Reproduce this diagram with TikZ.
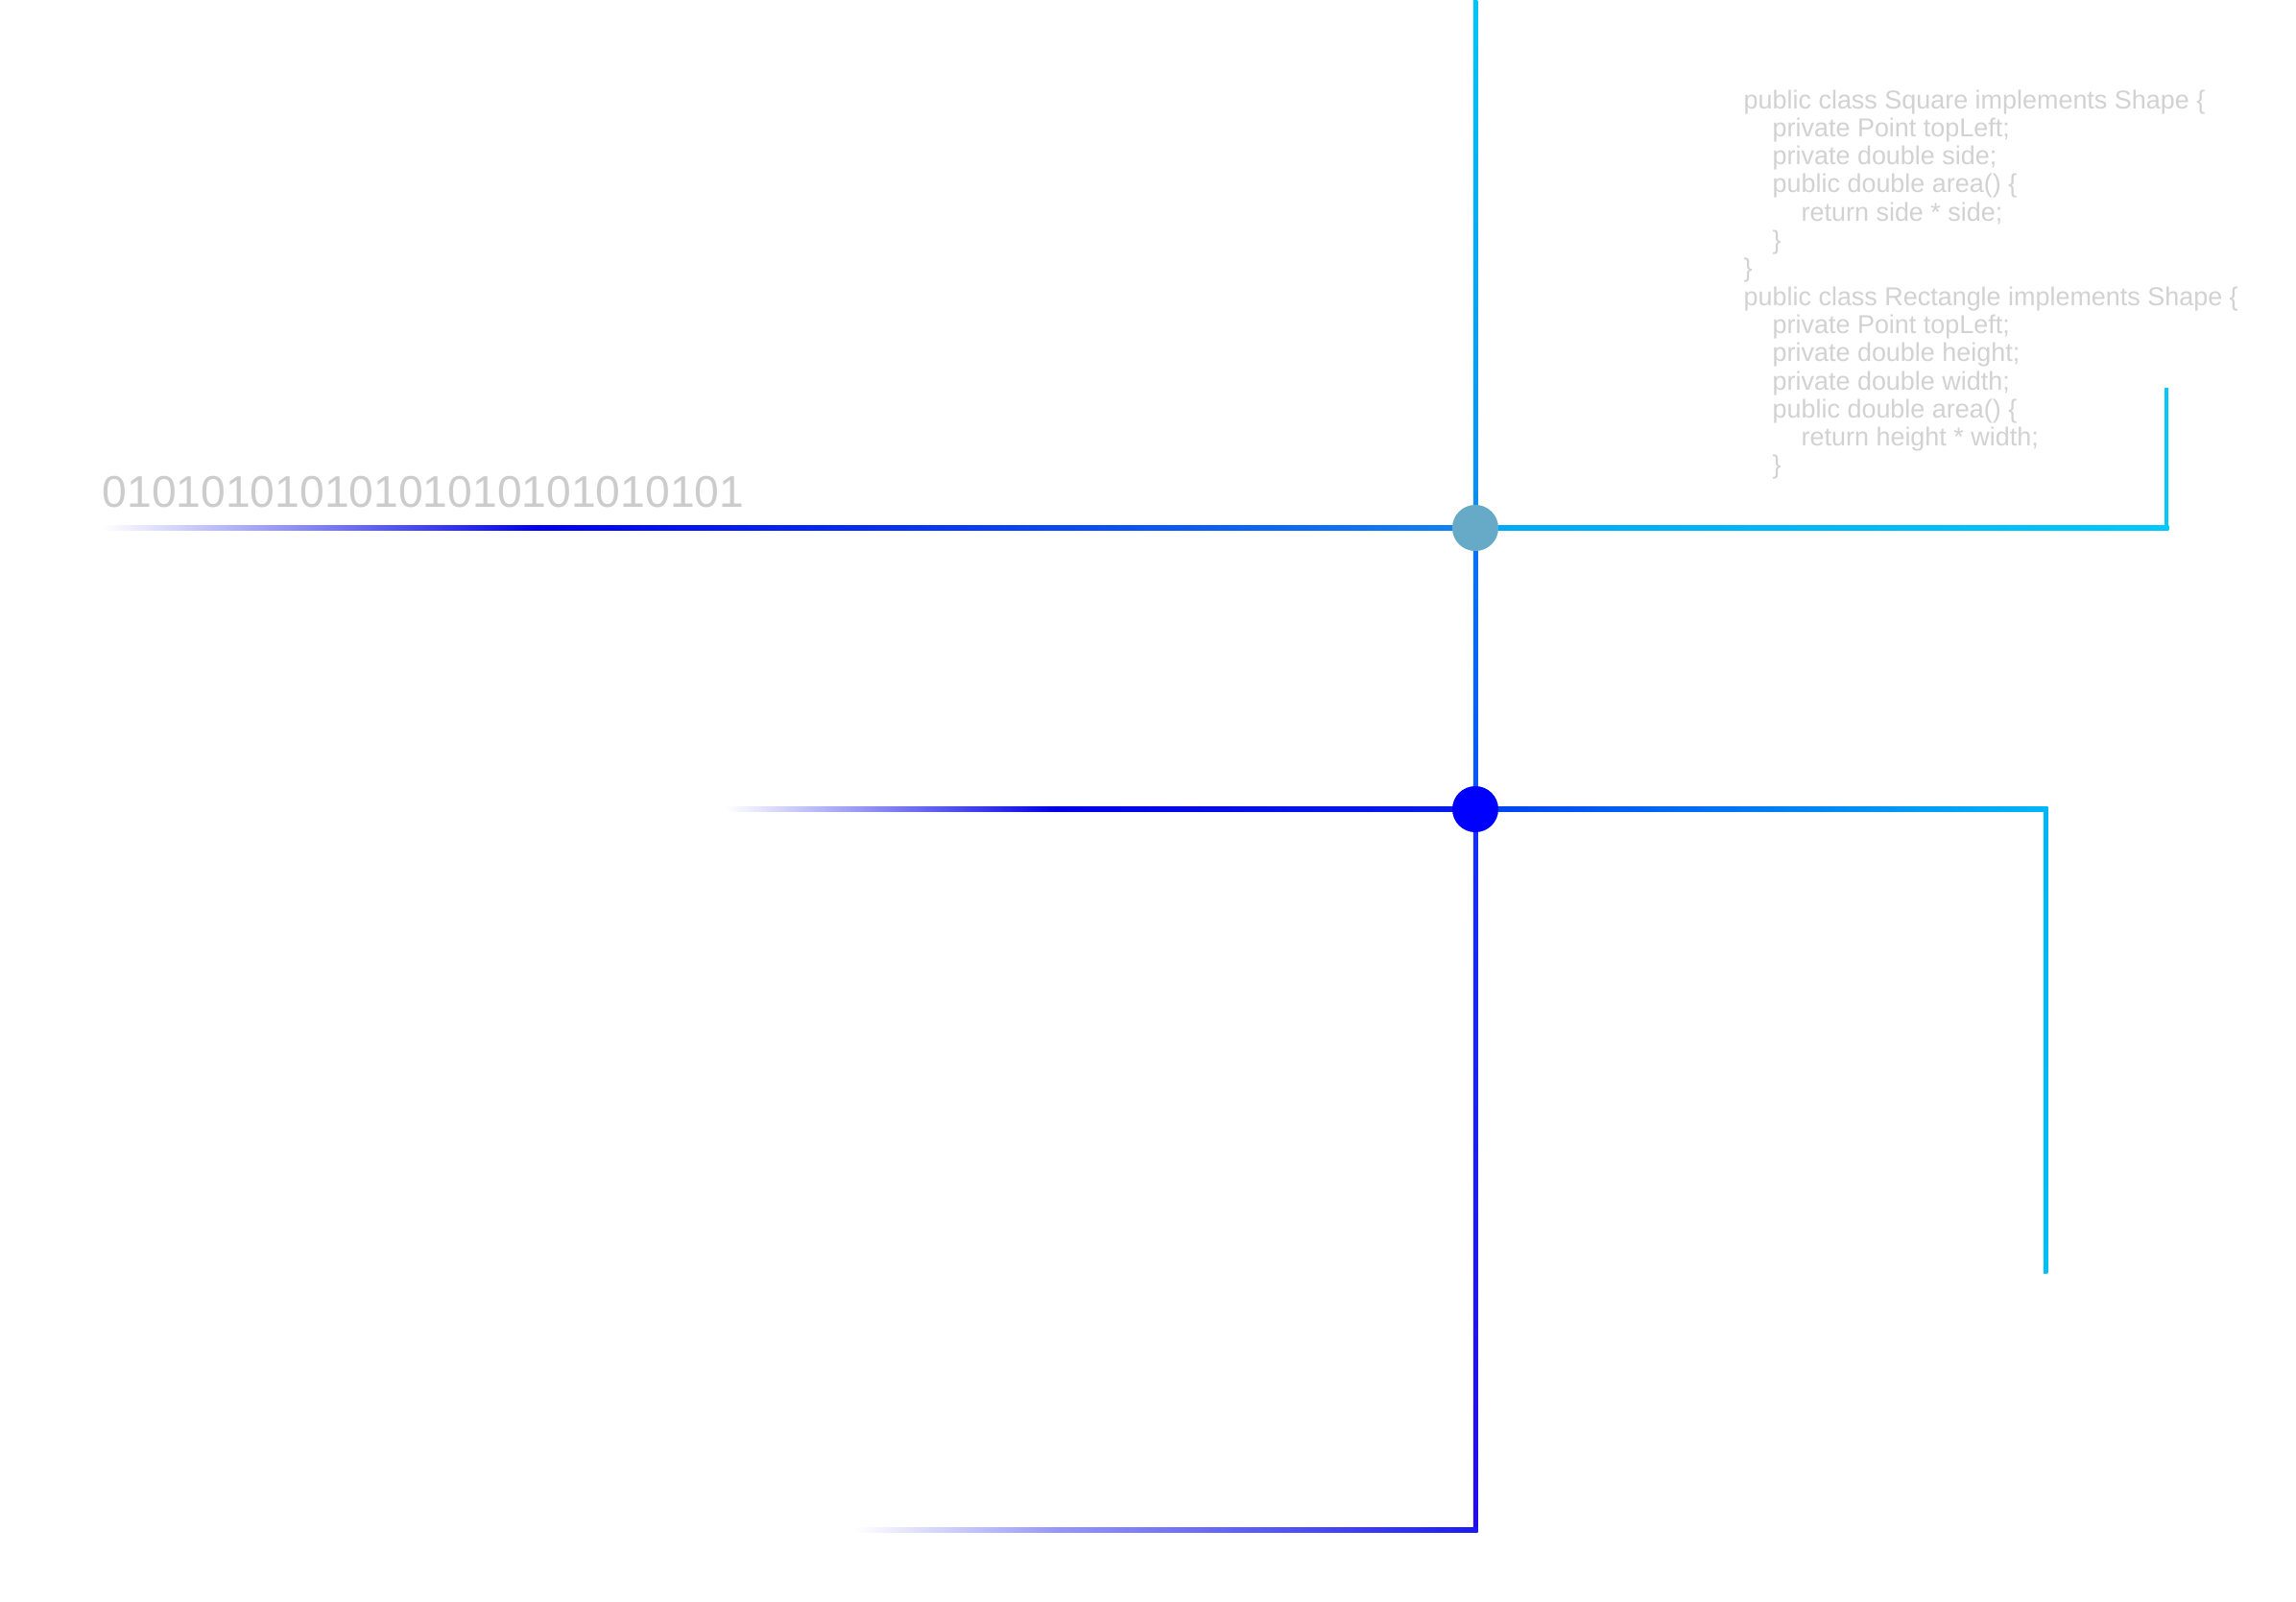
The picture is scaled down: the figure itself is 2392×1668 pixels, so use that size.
\documentclass[tikz,border=0pt]{standalone}
\usepackage{fontspec}
\setmainfont{Liberation Sans}
\usetikzlibrary{calc}
\definecolor{codegray}{RGB}{210,210,210}
\definecolor{bitgray}{RGB}{204,204,204}
\definecolor{cyanTop}{RGB}{0,198,248}
\definecolor{cyanEnd}{RGB}{0,200,250}
\definecolor{cyanMid}{RGB}{0,168,246}
\definecolor{blueNearHubA}{RGB}{12,140,242}
\definecolor{blueDeep}{RGB}{0,0,238}
\definecolor{blueHubLeft}{RGB}{18,132,242}
\definecolor{blueBetweenTop}{RGB}{8,118,252}
\definecolor{blueBetweenBot}{RGB}{6,84,250}
\definecolor{blueLowTop}{RGB}{20,48,255}
\definecolor{violetBot}{RGB}{36,10,240}
\definecolor{blueTwoLeft}{RGB}{0,0,232}
\definecolor{blueTwoHub}{RGB}{6,30,236}
\definecolor{blueTwoRight}{RGB}{0,64,242}
\definecolor{cyanTwo}{RGB}{0,182,246}
\definecolor{cyanTwoEnd}{RGB}{0,190,246}
\definecolor{fadeMid}{RGB}{150,150,248}
\definecolor{bottomBlue}{RGB}{26,26,242}
\definecolor{hubOne}{RGB}{102,170,200}
\definecolor{hubTwo}{RGB}{0,0,255}
\tikzset{
  code/.style={anchor=base west, inner sep=0pt, text=codegray,
    font=\fontsize{7.66pt}{9pt}\selectfont},
  bits/.style={anchor=base west, inner sep=0pt, text=bitgray,
    font=\fontsize{13.15pt}{15pt}\selectfont},
  hub/.style={circle, inner sep=0pt, minimum size=0.48cm, draw=none},
}
\begin{document}
\begin{tikzpicture}[x=0.01cm,y=-0.01cm]
\useasboundingbox (0,0) rectangle (2392,1668);
\fill[white] (0,0) rectangle (2392,1668);

% key points
\coordinate (vtop) at (1537,0);
\coordinate (hubA) at (1537,550);
\coordinate (hubB) at (1537,843);
\coordinate (vbot) at (1537,1594);
\coordinate (lAstart) at (106,550);
\coordinate (lAmid) at (560,550);
\coordinate (rAcorner) at (2257,550);
\coordinate (rAend) at (2257,404);
\coordinate (lBstart) at (755,843);
\coordinate (lBmid) at (1100,843);
\coordinate (rBcorner) at (2131,843);
\coordinate (rBend) at (2131,1326);
\coordinate (lCstart) at (891,1594);
\coordinate (lCmid) at (1100,1594);

% vertical trunk
\fill[top color=cyanTop, bottom color=blueNearHubA]
  ($(vtop)+(-2.25,0)$) rectangle ($(hubA)+(2.25,0)$);
\fill[top color=blueBetweenTop, bottom color=blueBetweenBot]
  ($(hubA)+(-2.25,0)$) rectangle ($(hubB)+(2.25,0)$);
\fill[top color=blueLowTop, bottom color=violetBot]
  ($(hubB)+(-2.25,0)$) rectangle ($(vbot)+(2.25,2.25)$);

% upper branch
\fill[left color=white, right color=blueDeep]
  ($(lAstart)+(0,-2.25)$) rectangle ($(lAmid)+(0,2.25)$);
\fill[left color=blueDeep, right color=blueHubLeft]
  ($(lAmid)+(0,-2.25)$) rectangle ($(hubA)+(0,2.25)$);
\fill[left color=cyanMid, right color=cyanEnd]
  ($(hubA)+(0,-2.25)$) rectangle ($(rAcorner)+(2.25,2.25)$);
\fill[cyanEnd]
  ($(rAend)+(-2.25,0)$) rectangle ($(rAcorner)+(2.25,0)$);

% middle branch
\fill[left color=white, right color=blueTwoLeft]
  ($(lBstart)+(0,-2.25)$) rectangle ($(lBmid)+(0,2.25)$);
\fill[left color=blueTwoLeft, right color=blueTwoHub]
  ($(lBmid)+(0,-2.25)$) rectangle ($(hubB)+(0,2.25)$);
\fill[left color=blueTwoRight, right color=cyanTwo]
  ($(hubB)+(0,-2.25)$) rectangle ($(rBcorner)+(2.25,2.25)$);
\fill[top color=cyanTwo, bottom color=cyanTwoEnd]
  ($(rBcorner)+(-2.25,-2.25)$) rectangle ($(rBend)+(2.25,0)$);

% bottom branch
\fill[left color=white, right color=fadeMid]
  ($(lCstart)+(0,-2.25)$) rectangle ($(lCmid)+(0,2.25)$);
\fill[left color=fadeMid, right color=bottomBlue]
  ($(lCmid)+(0,-2.25)$) rectangle ($(vbot)+(2.25,2.25)$);

% hubs
\node[hub, fill=hubOne] (hubOneNode) at (hubA) {};
\node[hub, fill=hubTwo] (hubTwoNode) at (hubB) {};

% binary text
\node[bits] (bitsText) at (106,528) {01010101010101010101010101};

% code text
\node[code] (cl01) at (1816,113.0) {public class Square implements Shape \{};
\node[code] (cl02) at (1846,142.3) {private Point topLeft;};
\node[code] (cl03) at (1846,171.6) {private double side;};
\node[code] (cl04) at (1846,200.9) {public double area() \{};
\node[code] (cl05) at (1876,230.2) {return side * side;};
\node[code] (cl06) at (1846,259.5) {\}};
\node[code] (cl07) at (1816,288.8) {\}};
\node[code] (cl08) at (1816,318.1) {public class Rectangle implements Shape \{};
\node[code] (cl09) at (1846,347.4) {private Point topLeft;};
\node[code] (cl10) at (1846,376.7) {private double height;};
\node[code] (cl11) at (1846,406.0) {private double width;};
\node[code] (cl12) at (1846,435.3) {public double area() \{};
\node[code] (cl13) at (1876,464.6) {return height * width;};
\node[code] (cl14) at (1846,493.9) {\}};
\end{tikzpicture}
\end{document}
